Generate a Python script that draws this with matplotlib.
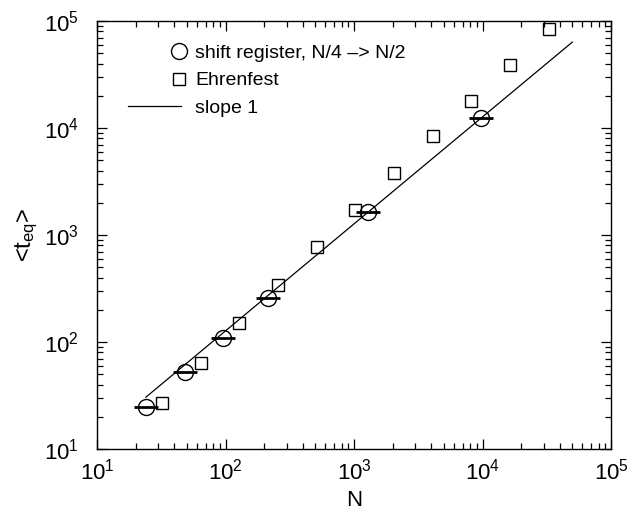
import math
import matplotlib
matplotlib.use("Agg")
import matplotlib.pyplot as plt
from matplotlib.lines import Line2D
from matplotlib.legend_handler import HandlerLine2D
from matplotlib.ticker import LogLocator, FuncFormatter, NullFormatter

plt.rcParams['font.family'] = ['Liberation Sans', 'DejaVu Sans']
plt.rcParams['mathtext.fontset'] = 'custom'
plt.rcParams['mathtext.rm'] = 'Liberation Sans'
plt.rcParams['mathtext.it'] = 'Liberation Sans'

# shift register data (N/4 -> N/2)
shift_N = [24, 48, 96, 216, 1280, 9800]
shift_t = [24.7, 52.5, 109, 259, 1630, 12400]

# Ehrenfest data
ehr_N = [32, 64, 128, 256, 512, 1024, 2048, 4096, 8192, 16384, 32768]
ehr_t = [27.1, 64, 150, 343, 772, 1720, 3820, 8360, 18000, 38500, 83600]

# slope 1 reference line
line_N = [24, 50000]
line_coef = 1.27


class RightMarker(HandlerLine2D):
    # put the legend marker at the right end of the handle box
    def get_xdata(self, legend, xdescent, ydescent, width, height, fontsize):
        x = [-xdescent + width - 0.15 * height]
        return x, x


fig = plt.figure(figsize=(6.36, 5.12), dpi=100)
ax = fig.add_axes([97/636, 1 - 449/512, 514/636, 428/512])

ax.plot(line_N, [line_coef * n for n in line_N], color='black', lw=0.9,
        zorder=2)
ax.plot(shift_N, shift_t, linestyle='none', marker='_', markersize=17,
        markeredgewidth=2.0, color='black', zorder=3)
ax.plot(shift_N, shift_t, linestyle='none', marker='o', markersize=11.5,
        markerfacecolor='none', markeredgecolor='black', markeredgewidth=1.0,
        zorder=4)
ax.plot(ehr_N, ehr_t, linestyle='none', marker='s', markersize=8.5,
        markerfacecolor='none', markeredgecolor='black', markeredgewidth=1.0,
        zorder=4)

ax.set_xscale('log')
ax.set_yscale('log')
ax.set_xlim(10, 1e5)
ax.set_ylim(10, 1e5)

fmt = FuncFormatter(lambda v, p: r'$10^{%d}$' % round(math.log10(v)))
for axis in (ax.xaxis, ax.yaxis):
    axis.set_major_locator(LogLocator(base=10, numticks=10))
    axis.set_minor_locator(LogLocator(base=10, subs=range(2, 10), numticks=10))
    axis.set_major_formatter(fmt)
    axis.set_minor_formatter(NullFormatter())

ax.tick_params(which='both', direction='in', top=True, right=True,
               labelsize=16, width=0.9)
ax.tick_params(which='major', length=7)
ax.tick_params(which='minor', length=4)
ax.tick_params(axis='x', which='major', pad=7)
ax.tick_params(axis='y', which='major', pad=13)
for s in ax.spines.values():
    s.set_linewidth(1.0)

ax.set_xlabel('N', fontsize=16, labelpad=4)
ax.set_ylabel(r'<t$_{\mathrm{eq}}$>', fontsize=17, labelpad=3)

handles = [
    Line2D([], [], linestyle='none', marker='o', markersize=11.5,
           markerfacecolor='none', markeredgecolor='black'),
    Line2D([], [], linestyle='none', marker='s', markersize=8.5,
           markerfacecolor='none', markeredgecolor='black'),
    Line2D([], [], color='black', lw=0.9),
]
labels = ['shift register, N/4 \u2013> N/2', 'Ehrenfest', 'slope 1']
ax.legend(handles, labels, loc='upper left', bbox_to_anchor=(0.06, 0.945),
          frameon=False, fontsize=14, handlelength=2.75, handletextpad=0.7,
          labelspacing=0.5, borderpad=0, borderaxespad=0, numpoints=1,
          handler_map={handles[0]: RightMarker(), handles[1]: RightMarker()})

fig.savefig('out.png', dpi=100)
